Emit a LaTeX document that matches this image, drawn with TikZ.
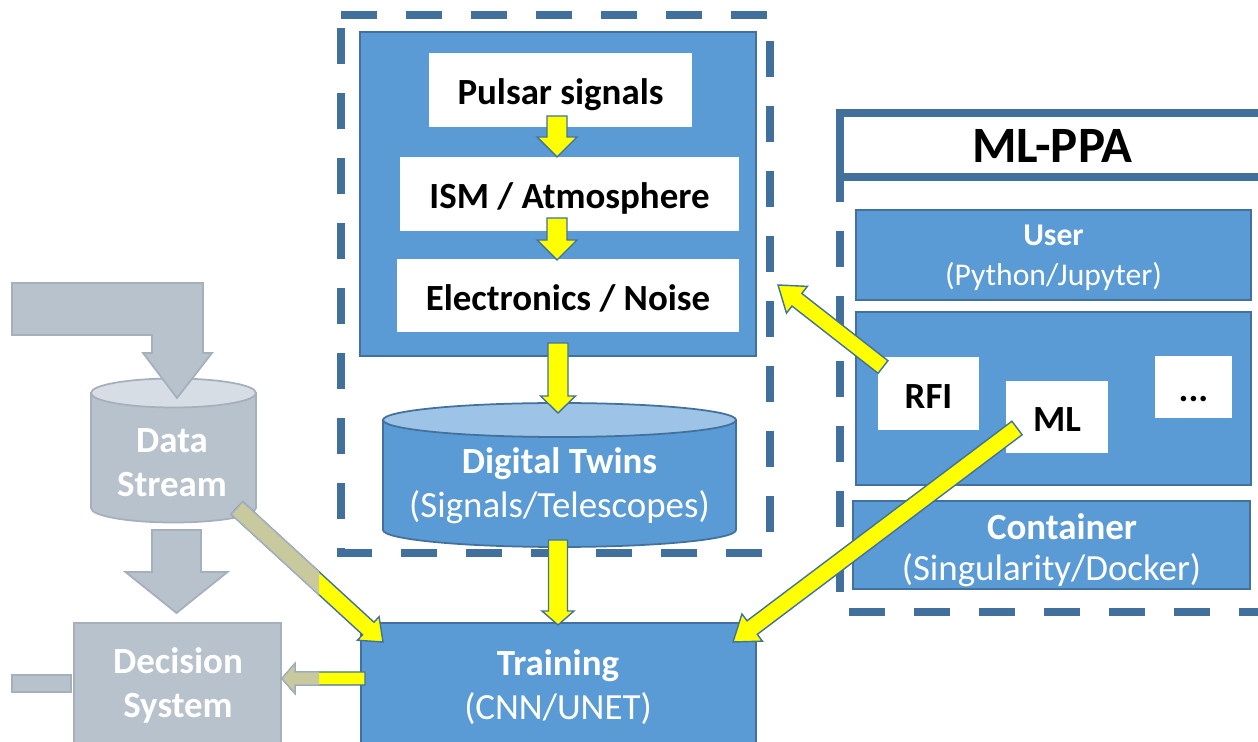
\documentclass[tikz,border=0pt]{standalone}
\usepackage{fontspec}
\setmainfont{Carlito}
\usetikzlibrary{calc}
\definecolor{bfill}{HTML}{5B9BD5}
\definecolor{bline}{HTML}{41719C}
\definecolor{blight}{HTML}{9DC3E6}
\definecolor{dline}{RGB}{66,112,156}
\definecolor{gfill}{RGB}{184,194,204}
\definecolor{gline}{RGB}{165,176,188}
\definecolor{gtop}{RGB}{214,221,228}
\definecolor{khaki}{RGB}{201,201,158}
\definecolor{yel}{RGB}{255,255,0}
% block arrow: #1 style, #2 tail, #3 tip, #4 shaft half width, #5 head half width, #6 head length
\newcommand{\blockarrow}[6]{%
  \coordinate (bh) at ($#3!#6!#2$);
  \draw[#1] ($#2!#4!90:#3$) -- ($(bh)!#4!-90:#2$) -- ($(bh)!#5!-90:#2$) -- #3
    -- ($(bh)!#5!90:#2$) -- ($(bh)!#4!90:#2$) -- ($#2!#4!-90:#3$) -- cycle;
}
\tikzset{
  bluebox/.style={draw=bline, fill=bfill, line width=1pt, inner sep=0pt},
  whitebox/.style={fill=white, inner sep=0pt, text=black, text height=0.6cm, text depth=0cm,
    font=\fontsize{21}{25}\selectfont\bfseries},
  graybox/.style={draw=gline, fill=gfill, line width=1pt, inner sep=0pt},
  wlabel/.style={text=white, align=center, inner sep=0pt, font=\fontsize{21}{25}\selectfont},
  yarrow/.style={fill=yel, draw=bline, line width=0.8pt, line join=miter},
  karrow/.style={fill=khaki, draw=gline, line width=0.8pt, line join=miter},
  garrow/.style={fill=gfill, draw=gline, line width=1pt, line join=miter},
  dashframe/.style={draw=dline, line width=0.16cm, dash pattern=on 0.72cm off 0.58cm},
}
\begin{document}
\begin{tikzpicture}[x=0.02cm, y=-0.02cm]
\useasboundingbox (0,0) rectangle (1258,742);
\clip (0,0) rectangle (1258,742);
\fill[white] (0,0) rectangle (1258,742);

% ---------- left (faded) part ----------
\draw[graybox] (91,393) -- (91,508) arc[start angle=180, end angle=360, x radius=1.65cm, y radius=0.29cm] -- (256,393) -- cycle;
\draw[draw=gline, fill=gtop, line width=1pt] (173.5,393) ellipse [x radius=1.65cm, y radius=0.29cm];
\node[wlabel, font=\fontsize{21}{25}\selectfont\bfseries] (ds) at (172,463) {Data\\Stream};
\draw[garrow] (12,283) -- (203,283) -- (203,353) -- (212,353) -- (177,398) -- (143,353) -- (152,353) -- (152,335) -- (12,335) -- cycle;
\node[graybox, minimum width=4.14cm, minimum height=3.54cm] (dec) at (177.5,711.5) {};
\node[wlabel, font=\fontsize{21}{25}\selectfont\bfseries] (dectext) at (178,685) {Decision\\System};
\node[graybox, minimum width=1.18cm, minimum height=0.34cm] (leftbar) at (41.5,683.5) {};
\coordinate (gdT) at (176.5,530);
\coordinate (gdH) at (176.5,613);
\blockarrow{garrow}{(gdT)}{(gdH)}{0.49cm}{1.02cm}{0.82cm}

% ---------- simulation group ----------
\draw[dashframe] (341,15) -- (770,15) -- (770,553) -- (341,553) -- cycle;
\node[bluebox, minimum width=7.92cm, minimum height=6.48cm] (sim) at (558,194) {};
\node[whitebox, minimum width=5.26cm, minimum height=1.48cm] (pulsar) at (560.5,90) {Pulsar signals};
\node[whitebox, minimum width=6.78cm, minimum height=1.48cm] (ism) at (569.5,194) {ISM / Atmosphere};
\node[whitebox, minimum width=6.84cm, minimum height=1.46cm] (elec) at (568,295.5) {Electronics / Noise};
\coordinate (a1T) at (557,116);
\coordinate (a1H) at (557,157);
\coordinate (a2T) at (557,218);
\coordinate (a2H) at (557,260);
\blockarrow{yarrow}{(a1T)}{(a1H)}{0.2cm}{0.4cm}{0.4cm}
\blockarrow{yarrow}{(a2T)}{(a2H)}{0.2cm}{0.4cm}{0.4cm}

% digital twins cylinder
\draw[draw=bline, fill=bfill, line width=1pt] (383,420) -- (383,530) arc[start angle=180, end angle=360, x radius=3.53cm, y radius=0.34cm] -- (736,420) -- cycle;
\draw[draw=bline, fill=blight, line width=1pt] (559.5,420) ellipse [x radius=3.53cm, y radius=0.34cm];
\node[wlabel] (dt) at (559.5,486) {\textbf{Digital Twins}\\(Signals/Telescopes)};
\coordinate (a3T) at (558,343);
\coordinate (a3H) at (558,413);
\blockarrow{yarrow}{(a3T)}{(a3H)}{0.2cm}{0.35cm}{0.34cm}

% training
\node[bluebox, minimum width=7.9cm, minimum height=3.54cm] (train) at (558.5,711.5) {};
\node[wlabel] (traintext) at (558,687) {\textbf{Training}\\(CNN/UNET)};
\coordinate (a4T) at (558,540);
\coordinate (a4H) at (558,625);
\blockarrow{yarrow}{(a4T)}{(a4H)}{0.19cm}{0.32cm}{0.28cm}

% ---------- ML-PPA ----------
\draw[dashframe, dash phase=0.22cm] (840,177) -- (840,612) -- (1300,612);
\draw[draw=dline, line width=0.16cm, fill=white] (840,113) rectangle (1300,177);
\node[text=black, font=\fontsize{29}{33}\selectfont\bfseries, inner sep=0pt] (title) at (1052.5,146) {ML-PPA};
\node[bluebox, minimum width=7.9cm, minimum height=1.8cm] (user) at (1053.5,255) {};
\node[wlabel, font=\fontsize{18}{22.7}\selectfont] (usertext) at (1053.5,257.5) {\textbf{User}\\(Python/Jupyter)};
\node[bluebox, minimum width=7.9cm, minimum height=3.46cm] (mid) at (1053.5,398.5) {};
\node[whitebox, minimum width=2.02cm, minimum height=1.46cm] (rfi) at (928.5,393.5) {RFI};
\node[whitebox, minimum width=2.04cm, minimum height=1.44cm] (ml) at (1057,417) {ML};
\node[whitebox, minimum width=1.54cm, minimum height=1.24cm] (dots) at (1193.5,387) {...};
\node[bluebox, minimum width=7.94cm, minimum height=1.76cm] (cont) at (1051.5,545) {};
\node[wlabel, font=\fontsize{21}{25}\selectfont\bfseries] (contA) at (1062,527) {Container};
\node[wlabel] (contB) at (1051.5,570) {(Singularity/Docker)};

% ---------- long connectors ----------
\coordinate (a5T) at (883,367);
\coordinate (a5H) at (778,285);
\blockarrow{yarrow}{(a5T)}{(a5H)}{0.16cm}{0.34cm}{0.48cm}
\coordinate (a6T) at (1017,428);
\coordinate (a6H) at (733,642);
\blockarrow{yarrow}{(a6T)}{(a6H)}{0.17cm}{0.34cm}{0.48cm}
\coordinate (a7T) at (237,508);
\coordinate (a7H) at (383,642);
\blockarrow{yarrow}{(a7T)}{(a7H)}{0.17cm}{0.32cm}{0.4cm}
\coordinate (a8T) at (365,678.5);
\coordinate (a8H) at (282,678.5);
\blockarrow{yarrow}{(a8T)}{(a8H)}{0.13cm}{0.3cm}{0.26cm}
\begin{scope}
  \clip (0,0) rectangle (319,742);
  \blockarrow{karrow}{(a7T)}{(a7H)}{0.17cm}{0.32cm}{0.4cm}
  \blockarrow{karrow}{(a8T)}{(a8H)}{0.13cm}{0.3cm}{0.26cm}
\end{scope}
\end{tikzpicture}
\end{document}
